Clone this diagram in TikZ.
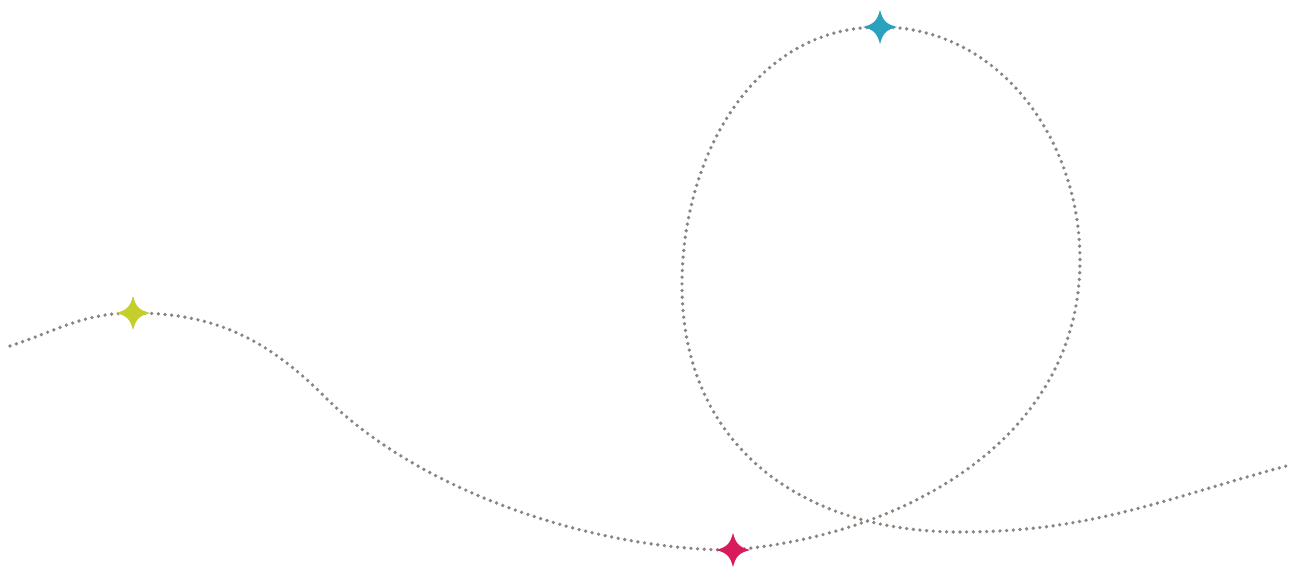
\documentclass[tikz,border=0pt]{standalone}
\usepackage{xcolor}
\usepackage{tikz}
\usetikzlibrary{calc}
\definecolor{starlime}{HTML}{C4CF2C}
\definecolor{starteal}{HTML}{2BA2BD}
\definecolor{starrose}{HTML}{D81B5C}
\definecolor{trailgrey}{HTML}{8A837E}

\begin{document}
\begin{tikzpicture}[x=0.02cm,y=0.02cm,
  trail/.style={trailgrey,line width=2.1pt,line cap=round,dash pattern=on 0pt off 3.8pt},
  sparkle/.pic={\fill[pic actions] (17,0) .. controls (6,3) and (3,6) .. (0,17)
     .. controls (-3,6) and (-6,3) .. (-17,0) .. controls (-6,-3) and (-3,-6) .. (0,-17)
     .. controls (3,-6) and (6,-3) .. cycle;}]
\fill[white] (0,0) rectangle (1299,578);
\useasboundingbox (0,0) rectangle (1299,578);
% points along the trail
\coordinate (start) at (10,232);
\coordinate (lime) at (133,265);
\coordinate (bend) at (325,181);
\coordinate (rose) at (733,28);
\coordinate (loopR) at (1080,318);
\coordinate (teal) at (880,551);
\coordinate (loopL) at (682,293);
\coordinate (floor) at (960,46);
\coordinate (finish) at (1290,113);
\draw[trail] (start) to[out=18,in=180] (lime) to[out=0,in=135] (bend)
  to[out=-45,in=180,looseness=0.8] (rose) to[out=5,in=-90] (loopR)
  to[out=90,in=0] (teal) to[out=180,in=90] (loopL)
  to[out=-90,in=180,looseness=1.1] (floor) to[out=0,in=195] (finish);
% stars
\pic[starlime] at (lime) {sparkle};
\pic[starteal] at (teal) {sparkle};
\pic[starrose] at (rose) {sparkle};
\end{tikzpicture}
\end{document}
